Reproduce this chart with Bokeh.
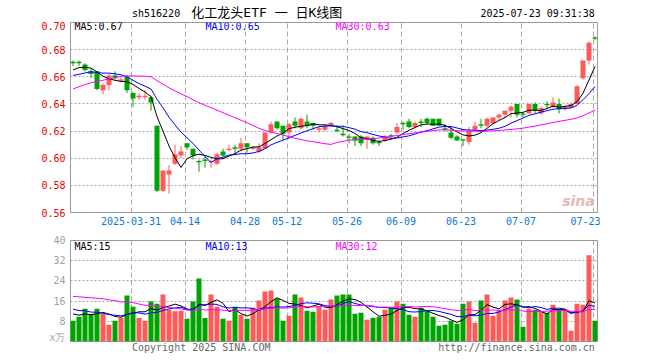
import numpy as np
from bokeh.plotting import figure
from bokeh.layouts import column
from bokeh.models import ColumnDataSource, Range1d, FixedTicker, PrintfTickFormatter, Label
from bokeh.core.properties import value
from bokeh.embed import file_html
from bokeh.resources import INLINE

# ---------------- data ----------------
open_ = [0.671, 0.671, 0.669, 0.664, 0.664, 0.650, 0.654, 0.661, 0.657, 0.660,
         0.648, 0.645, 0.645, 0.645, 0.624, 0.576, 0.588, 0.596, 0.602, 0.611,
         0.607, 0.598, 0.599, 0.597, 0.596, 0.605, 0.606, 0.608, 0.607, 0.611,
         0.607, 0.605, 0.607, 0.619, 0.627, 0.624, 0.619, 0.627, 0.622, 0.627,
         0.626, 0.621, 0.621, 0.624, 0.621, 0.618, 0.616, 0.616, 0.616, 0.614,
         0.615, 0.612, 0.613, 0.617, 0.619, 0.626, 0.627, 0.623, 0.627, 0.629,
         0.629, 0.629, 0.622, 0.619, 0.616, 0.614, 0.612, 0.621, 0.625, 0.624,
         0.626, 0.630, 0.632, 0.635, 0.640, 0.633, 0.633, 0.640, 0.633, 0.640,
         0.638, 0.640, 0.636, 0.637, 0.640, 0.659, 0.672, 0.689]
high = [0.672, 0.672, 0.670, 0.666, 0.664, 0.655, 0.662, 0.664, 0.660, 0.661,
        0.649, 0.648, 0.650, 0.646, 0.624, 0.591, 0.595, 0.610, 0.609, 0.611,
        0.607, 0.599, 0.601, 0.599, 0.604, 0.607, 0.610, 0.610, 0.615, 0.611,
        0.609, 0.611, 0.619, 0.627, 0.627, 0.624, 0.626, 0.630, 0.630, 0.632,
        0.626, 0.623, 0.625, 0.627, 0.624, 0.624, 0.618, 0.616, 0.617, 0.616,
        0.616, 0.613, 0.617, 0.618, 0.626, 0.627, 0.629, 0.627, 0.629, 0.630,
        0.629, 0.629, 0.625, 0.623, 0.617, 0.614, 0.623, 0.627, 0.629, 0.630,
        0.630, 0.633, 0.635, 0.639, 0.640, 0.634, 0.640, 0.641, 0.638, 0.642,
        0.645, 0.644, 0.639, 0.641, 0.654, 0.672, 0.686, 0.690]
low = [0.668, 0.668, 0.664, 0.659, 0.650, 0.647, 0.650, 0.658, 0.656, 0.648,
       0.638, 0.643, 0.643, 0.635, 0.575, 0.575, 0.574, 0.595, 0.600, 0.606,
       0.599, 0.590, 0.593, 0.593, 0.595, 0.601, 0.605, 0.603, 0.605, 0.604,
       0.606, 0.604, 0.607, 0.618, 0.621, 0.613, 0.614, 0.622, 0.621, 0.622,
       0.621, 0.619, 0.620, 0.624, 0.619, 0.616, 0.611, 0.609, 0.609, 0.607,
       0.610, 0.609, 0.612, 0.615, 0.618, 0.621, 0.622, 0.622, 0.623, 0.625,
       0.624, 0.624, 0.620, 0.614, 0.613, 0.609, 0.610, 0.620, 0.622, 0.623,
       0.625, 0.628, 0.630, 0.630, 0.630, 0.630, 0.633, 0.633, 0.632, 0.636,
       0.637, 0.633, 0.635, 0.637, 0.640, 0.658, 0.669, 0.687]
close = [0.670, 0.670, 0.665, 0.662, 0.651, 0.654, 0.661, 0.659, 0.658, 0.650,
         0.644, 0.646, 0.646, 0.641, 0.576, 0.591, 0.591, 0.603, 0.605, 0.608,
         0.602, 0.597, 0.598, 0.598, 0.603, 0.602, 0.607, 0.607, 0.611, 0.608,
         0.608, 0.608, 0.619, 0.625, 0.622, 0.618, 0.625, 0.624, 0.629, 0.624,
         0.624, 0.622, 0.624, 0.626, 0.620, 0.617, 0.615, 0.613, 0.611, 0.616,
         0.611, 0.611, 0.616, 0.616, 0.623, 0.625, 0.623, 0.626, 0.626, 0.626,
         0.624, 0.624, 0.621, 0.615, 0.613, 0.613, 0.620, 0.624, 0.624, 0.629,
         0.630, 0.632, 0.635, 0.638, 0.632, 0.632, 0.640, 0.635, 0.637, 0.639,
         0.641, 0.636, 0.638, 0.640, 0.653, 0.672, 0.685, 0.688]
volume = [8.2, 9.8, 13.0, 10.9, 13.0, 10.9, 6.6, 8.2, 9.3, 18.2,
          13.8, 9.3, 8.2, 15.8, 15.0, 18.6, 12.6, 12.0, 12.2, 9.0,
          15.8, 25.0, 9.3, 18.6, 13.8, 9.0, 8.2, 13.8, 10.6, 9.0,
          13.4, 16.2, 19.8, 20.2, 17.0, 8.2, 10.2, 18.6, 17.4, 12.2,
          11.8, 13.8, 12.6, 16.6, 18.2, 18.6, 18.6, 11.0, 11.4, 8.6,
          9.4, 9.8, 12.6, 13.8, 15.8, 15.0, 10.6, 9.8, 13.4, 12.2,
          9.8, 6.2, 6.6, 8.2, 7.0, 15.0, 15.8, 7.4, 16.2, 18.6,
          10.2, 12.2, 16.2, 17.4, 16.6, 5.8, 13.0, 12.6, 11.8, 11.4,
          14.6, 12.6, 12.6, 4.3, 15.0, 14.6, 34.2, 8.2]
# sessions before the visible window (estimated from the moving-average lines)
prior_close = [0.619, 0.617, 0.623, 0.626, 0.624, 0.629, 0.631, 0.631,
               0.640, 0.645, 0.650, 0.648, 0.652,
               0.664, 0.668, 0.672, 0.670, 0.671, 0.669, 0.671,
               0.662, 0.655, 0.653, 0.657, 0.658,
               0.661, 0.664, 0.665, 0.665]
prior_volume = [16.5, 19.0, 15.8, 18.2, 17.5, 20.1, 16.3,
                24.5, 21.0, 19.8, 26.3, 22.4, 18.7, 23.9, 25.1, 20.6, 21.8, 19.5, 22.6, 19.4,
                15.2, 13.8, 16.1, 14.0, 14.4,
                12.1, 10.8, 11.9, 11.5]

date_tick_index = [10, 19, 29, 36, 46, 55, 65, 75, 87]
date_tick_labels = ["2025-03-31", "04-14", "04-28", "05-12", "05-26",
                    "06-09", "06-23", "07-07", "07-23"]
price_ticks = [0.56, 0.58, 0.60, 0.62, 0.64, 0.66, 0.68, 0.70]
volume_ticks = [0, 8, 16, 24, 32, 40]

code = "sh516220"
title_text = "化工龙头ETF 一 日K线图"
timestamp = "2025-07-23 09:31:38"
price_ma_labels = ["MA5:0.67", "MA10:0.65", "MA30:0.63"]
volume_ma_labels = ["MA5:15", "MA10:13", "MA30:12"]
copyright_text = "Copyright 2025 SINA.COM"
url_text = "http://finance.sina.com.cn"

# ---------------- styling ----------------
RED = "#ff5a5a"
GREEN = "#00a400"
MA_COLORS = ["#000000", "#0000ff", "#ff00ff"]
MONO = "DejaVu Sans Mono"
GRID = "#aaaaaa"
WIDTH = 600
LEFT = 70
FRAME_W = 527
PRICE_H = 190
VOL_H = 101


def moving_average(series, prior, n):
    full = np.array(list(prior) + list(series), dtype=float)
    out = np.convolve(full, np.ones(n) / n, mode="valid")
    return out[-len(series):]


n = len(close)
idx = list(range(n))
colors = [RED if c > o else GREEN for o, c in zip(open_, close)]
body_top = [max(o, c) for o, c in zip(open_, close)]
body_bottom = [min(o, c) for o, c in zip(open_, close)]
src = ColumnDataSource(dict(x=idx, high=high, low=low, top=body_top,
                            bottom=body_bottom, color=colors, vol=volume))

grid_pos = [i - 1.0 / 3.0 for i in date_tick_index]
x_range = Range1d(-2.5 / 6.0, -2.5 / 6.0 + FRAME_W / 6.0)


def add_label(fig, x, y, text, color, size="10px", align="left", font=MONO, style="normal"):
    fig.add_layout(Label(x=x, y=y, x_units="screen", y_units="screen", text=text,
                         text_color=color, text_font=font, text_font_size=size,
                         text_align=align, text_baseline="middle", text_font_style=style))


def base_fig(height, y_range, top, bottom):
    f = figure(width=WIDTH, height=height, x_range=x_range, y_range=y_range,
               output_backend="svg", toolbar_location=None,
               min_border_left=LEFT, min_border_right=WIDTH - LEFT - FRAME_W,
               min_border_top=top, min_border_bottom=bottom)
    f.title.visible = False
    f.outline_line_color = "#999999"
    f.outline_line_width = 1
    f.xgrid.ticker = FixedTicker(ticks=grid_pos)
    f.xgrid.grid_line_color = GRID
    f.xgrid.grid_line_dash = "5 3"
    f.ygrid.grid_line_color = GRID
    f.ygrid.grid_line_dash = "2 2"
    for ax in (f.xaxis[0], f.yaxis[0]):
        ax.axis_line_color = None
        ax.major_tick_line_color = None
        ax.minor_tick_line_color = None
        ax.major_tick_out = 0
        ax.major_tick_in = 0
        ax.minor_tick_out = 0
        ax.major_label_text_font = MONO
        ax.major_label_text_font_size = "10px"
    return f


def text_strip(height):
    f = figure(width=WIDTH, height=height, x_range=Range1d(0, WIDTH),
               y_range=Range1d(0, height), output_backend="svg", toolbar_location=None,
               x_axis_type=None, y_axis_type=None,
               min_border_left=0, min_border_right=0, min_border_top=0, min_border_bottom=0)
    f.title.visible = False
    f.outline_line_color = None
    f.xgrid.visible = False
    f.ygrid.visible = False
    return f


def strip_text(f, x, y, text, color, size="10px", align="left", font=MONO):
    f.text(x=[x], y=[y], text=[text], text_color=color, text_font=value(font),
           text_font_size=size, text_align=align, text_baseline="middle")


# ---------------- header ----------------
HDR_H = 21
hdr = text_strip(HDR_H)
strip_text(hdr, LEFT, HDR_H - 12.5, code, "#000000")
strip_text(hdr, 223.5, HDR_H - 11.5, title_text, "#000000", size="13px", align="center",
           font="DejaVu Sans Mono, Noto Sans CJK SC")
strip_text(hdr, LEFT + FRAME_W, HDR_H - 12.5, timestamp, "#000000", align="right")

# ---------------- price panel ----------------
p = base_fig(1 + PRICE_H + 20, Range1d(0.56, 0.70), 1, 20)
p.yaxis.ticker = FixedTicker(ticks=price_ticks)
p.yaxis.formatter = PrintfTickFormatter(format="%.2f")
p.yaxis.major_label_text_color = "#e60000"
p.yaxis.major_label_standoff = 5
p.xaxis.ticker = FixedTicker(ticks=grid_pos)
p.xaxis.major_label_overrides = {g: t for g, t in zip(grid_pos, date_tick_labels)}
p.xaxis.major_label_text_color = "#0a7ad6"
p.xaxis.major_label_standoff = 4

p.segment(x0="x", y0="low", x1="x", y1="high", line_color="color", line_width=1, source=src)
p.vbar(x="x", top="top", bottom="bottom", width=5.0 / 6.0, fill_color="color",
       line_color=None, source=src)
for w, col in zip([5, 10, 30], MA_COLORS):
    p.line(idx, moving_average(close, prior_close, w), line_color=col, line_width=1)

for xx, txt, col in zip([4, 135, 265], price_ma_labels, MA_COLORS):
    add_label(p, xx, PRICE_H - 4, txt, col)
add_label(p, 508, 12, "sina", "#e6b8b8", size="14px", align="center",
          font="DejaVu Sans", style="bold italic")

# ---------------- volume panel ----------------
q = base_fig(8 + VOL_H + 1, Range1d(0, 40), 8, 1)
q.xaxis.visible = False
q.yaxis.ticker = FixedTicker(ticks=volume_ticks)
q.yaxis.major_label_overrides = {0: "x万"}
q.yaxis.major_label_text_color = "#a0a0a0"
q.yaxis.major_label_standoff = 5

q.vbar(x="x", top="vol", bottom=0, width=5.0 / 6.0, fill_color="color",
       line_color=None, source=src)
for w, col in zip([5, 10, 30], MA_COLORS):
    q.line(idx, moving_average(volume, prior_volume, w), line_color=col, line_width=1)

for xx, txt, col in zip([4, 135, 265], volume_ma_labels, MA_COLORS):
    add_label(q, xx, VOL_H - 6, txt, col)

# ---------------- footer ----------------
FTR_H = 16
ftr = text_strip(FTR_H)
strip_text(ftr, LEFT, FTR_H - 4.5, copyright_text, "#666666")
strip_text(ftr, LEFT + FRAME_W, FTR_H - 4.5, url_text, "#666666", align="right")

layout = column(hdr, p, q, ftr, spacing=0)
open("out.html", "w").write(file_html(layout, INLINE))
